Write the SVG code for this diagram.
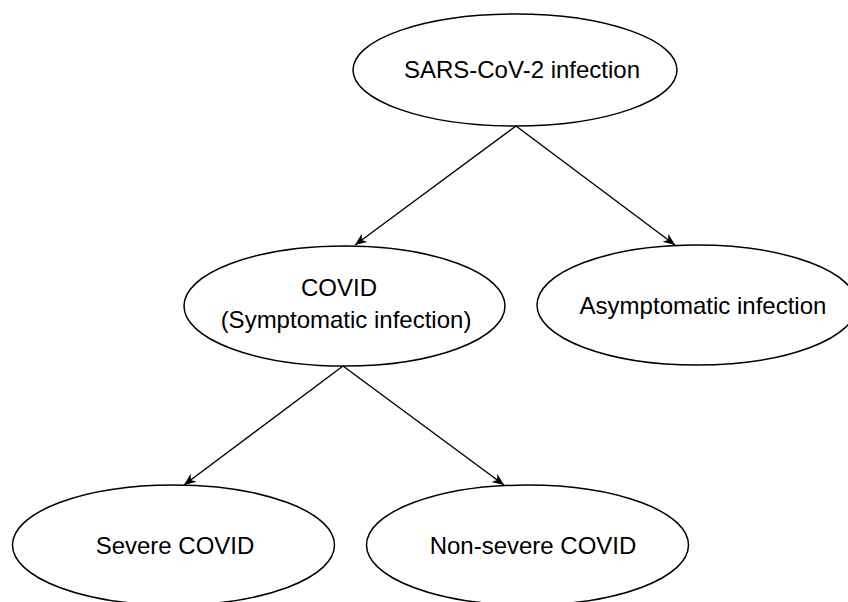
<svg xmlns="http://www.w3.org/2000/svg" width="848" height="602" viewBox="0 0 848 602">
<style>
.n ellipse{fill:#fff;stroke:#000;stroke-width:1.5}
.n text{font-family:"Liberation Sans",Arial,sans-serif;font-size:24px;fill:#000;text-anchor:middle}
.c line{stroke:#000;stroke-width:1.4;marker-end:url(#ah)}
</style>
<defs>
<marker id="ah" markerUnits="userSpaceOnUse" markerWidth="14" markerHeight="12" refX="12" refY="5" orient="auto">
<path d="M0,0 L12,5 L0,10 L3.5,5 Z" fill="#000"/>
</marker>
</defs>
<rect width="848" height="602" fill="#fff"/>
<g class="c" id="connectors">
<line x1="516" y1="126" x2="355" y2="245"/>
<line x1="516" y1="126" x2="675" y2="245"/>
<line x1="343" y1="366" x2="184" y2="485"/>
<line x1="343" y1="366" x2="504" y2="485"/>
</g>
<g class="n" id="sars">
<ellipse cx="515" cy="70" rx="162" ry="56"/>
<text x="522" y="78">SARS-CoV-2 infection</text>
</g>
<g class="n" id="covid">
<ellipse cx="344.5" cy="306" rx="160.5" ry="60"/>
<text x="339" y="296">COVID</text>
<text x="346" y="328">(Symptomatic infection)</text>
</g>
<g class="n" id="asymptomatic">
<ellipse cx="697" cy="305" rx="160" ry="60"/>
<text x="703" y="314">Asymptomatic infection</text>
</g>
<g class="n" id="severe">
<ellipse cx="173.5" cy="545" rx="161" ry="60"/>
<text x="175" y="554">Severe COVID</text>
</g>
<g class="n" id="nonsevere">
<ellipse cx="527.5" cy="545" rx="161" ry="60"/>
<text x="533" y="554">Non-severe COVID</text>
</g>
</svg>
